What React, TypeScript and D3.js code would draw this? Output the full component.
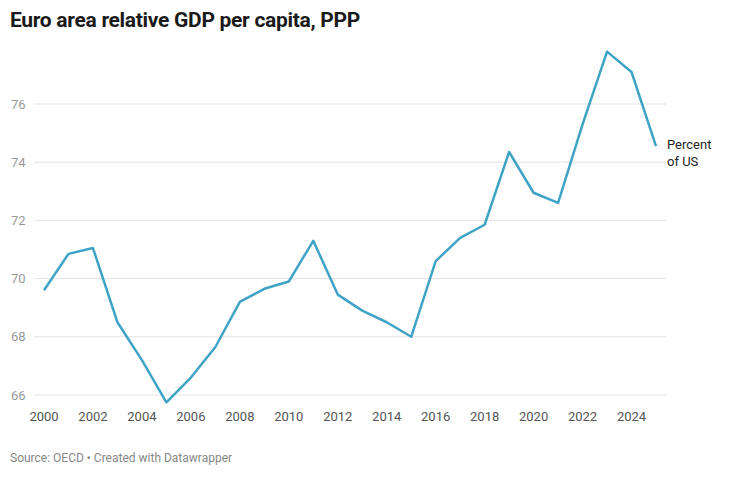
import React, { useEffect, useRef } from 'react';
import * as d3 from 'd3';

const years = d3.range(2000, 2026);
const values = [
  69.6, 70.85, 71.05, 68.5, 67.2, 65.75, 66.6, 67.65, 69.2, 69.65, 69.9, 71.3, 69.45,
  68.9, 68.5, 68.0, 70.6, 71.4, 71.85, 74.35, 72.95, 72.6, 75.3, 77.8, 77.1, 74.55,
];
const yTicks = [66, 68, 70, 72, 74, 76];
const xTicks = d3.range(2000, 2026, 2);

const width = 729;
const height = 478;

export default function App() {
  const svgRef = useRef<SVGSVGElement>(null);

  useEffect(() => {
    const svg = d3.select(svgRef.current);
    svg.selectAll('*').remove();
    const font = 'Roboto, sans-serif';

    const x = d3.scaleLinear().domain([2000, 2025]).range([44, 656]);
    const y = d3.scaleLinear().domain([66, 76]).range([395, 104]);

    svg.append('text').attr('x', 10).attr('y', 27).attr('font-family', font)
      .attr('font-size', 21).attr('font-weight', 700).attr('fill', '#1a1a1a')
      .attr('letter-spacing', -0.3)
      .text('Euro area relative GDP per capita, PPP');

    // gridlines
    svg.append('g').selectAll('line').data(yTicks).join('line')
      .attr('x1', 34).attr('x2', 666)
      .attr('y1', d => y(d)).attr('y2', d => y(d))
      .attr('stroke', '#e3e3e3').attr('stroke-width', 1);

    svg.append('g').selectAll('text').data(yTicks).join('text')
      .attr('x', 11).attr('y', d => y(d)).attr('dy', '0.35em')
      .attr('font-family', font).attr('font-size', 13).attr('fill', '#999')
      .text(d => d);

    svg.append('g').selectAll('text').data(xTicks).join('text')
      .attr('x', d => x(d)).attr('y', 421).attr('text-anchor', 'middle')
      .attr('font-family', font).attr('font-size', 13).attr('fill', '#555')
      .text(d => d);

    const line = d3.line<number>().x((_, i) => x(years[i])).y(d => y(d));
    svg.append('path').datum(values).attr('d', line)
      .attr('fill', 'none').attr('stroke', '#3fa3c6').attr('stroke-width', 2.5)
      .attr('stroke-linejoin', 'round');

    const lab = svg.append('text').attr('font-family', font).attr('font-size', 13).attr('fill', '#222');
    lab.append('tspan').attr('x', 667).attr('y', 149).text('Percent');
    lab.append('tspan').attr('x', 667).attr('y', 166).text('of US');

    svg.append('text').attr('x', 10).attr('y', 462).attr('font-family', font)
      .attr('font-size', 12).attr('fill', '#888')
      .text('Source: OECD • Created with Datawrapper');
  }, []);

  return (
    <svg ref={svgRef} width={width} height={height}
      style={{ position: 'absolute', left: 0, top: 0, background: '#fff' }} />
  );
}
